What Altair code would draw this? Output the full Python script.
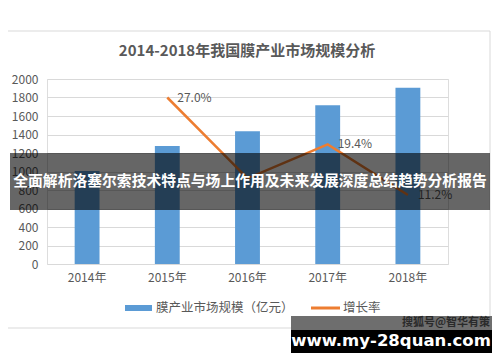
import altair as alt
import pandas as pd

years = ["2014年", "2015年", "2016年", "2017年", "2018年"]
market = [1005, 1275, 1435, 1715, 1905]
growth = [None, 0.270, 0.139, 0.194, 0.112]
growth_labels = ["", "27.0%", "", "19.4%", "11.2%"]

title = "2014-2018年我国膜产业市场规模分析"
legend_bar = "膜产业市场规模（亿元）"
legend_line = "增长率"
banner = "全面解析洛塞尔索技术特点与场上作用及未来发展深度总结趋势分析报告"
wm1 = "搜狐号@智华有策"
wm2 = "www.my-28quan.com"

df = pd.DataFrame({"year": years, "market": market, "growth": growth, "lab": growth_labels})
one = pd.DataFrame({"k": [0]})

FONT = "Noto Sans CJK SC"
GREY = "#595959"

x_enc = alt.X("year:N", sort=years, title=None,
              scale=alt.Scale(paddingInner=0.69, paddingOuter=0.345),
              axis=alt.Axis(labelAngle=0, ticks=False, domain=False, labelPadding=8,
                            labelFontSize=12, labelColor=GREY, labelFont=FONT))

frame = alt.Chart(one).mark_rect(fillOpacity=0, stroke="#d9d9d9", strokeWidth=1).encode(
    x=alt.value(-46), x2=alt.value(443), y=alt.value(-48), y2=alt.value(249))

title_mark = alt.Chart(one).mark_text(align="center", baseline="middle", fontSize=15, fontWeight="bold",
                                      color=GREY, font=FONT, text=title).encode(
    x=alt.value(200), y=alt.value(-28))

bars = alt.Chart(df).mark_bar(color="#5b9bd5").encode(
    x=x_enc,
    y=alt.Y("market:Q", title=None,
            scale=alt.Scale(domain=[0, 2000], nice=False),
            axis=alt.Axis(values=list(range(0, 2001, 200)), format="d", grid=True, gridColor="#d9d9d9",
                          domain=False, ticks=False, labelPadding=9, labelFontSize=12,
                          labelColor=GREY, labelFont=FONT)))

ybase = alt.Y("growth:Q", title=None,
              scale=alt.Scale(domain=[0, 0.3], nice=False),
              axis=alt.Axis(orient="right", format=".1%", values=[0, 0.05, 0.1, 0.15, 0.2, 0.25, 0.3],
                            grid=False, domain=False, ticks=False, labelPadding=11,
                            labelFontSize=11.5, labelColor=GREY, labelFont=FONT))

line = alt.Chart(df).transform_filter("datum.growth != null").mark_line(
    color="#ed7d31", strokeWidth=2.5).encode(x=x_enc, y=ybase)

labels = alt.Chart(df).transform_filter("datum.lab != ''").mark_text(
    align="left", baseline="middle", dx=10, fontSize=12, color=GREY, font=FONT).encode(
    x=x_enc, y=alt.Y("growth:Q", scale=alt.Scale(domain=[0, 0.3], nice=False), axis=None),
    text="lab:N")

rights = alt.layer(line, labels)

leg_rect = alt.Chart(one).mark_rect(color="#5b9bd5").encode(
    x=alt.value(78), x2=alt.value(105), y=alt.value(226), y2=alt.value(232))
leg_t1 = alt.Chart(one).mark_text(align="left", baseline="middle", fontSize=12.5, color=GREY,
                                  font=FONT, text=legend_bar).encode(x=alt.value(109), y=alt.value(229))
leg_line = alt.Chart(one).mark_rule(color="#ed7d31", strokeWidth=3).encode(
    x=alt.value(264), x2=alt.value(293), y=alt.value(229))
leg_t2 = alt.Chart(one).mark_text(align="left", baseline="middle", fontSize=12.5, color=GREY,
                                  font=FONT, text=legend_line).encode(x=alt.value(296), y=alt.value(229))

ban_rect = alt.Chart(one).mark_rect(color="black", opacity=0.6).encode(
    x=alt.value(-37), x2=alt.value(443), y=alt.value(74), y2=alt.value(131))
ban_text = alt.Chart(one).mark_text(align="center", baseline="middle", fontSize=14.8, fontWeight="bold",
                                    color="white", font=FONT, text=banner).encode(
    x=alt.value(203), y=alt.value(103))

wm_grey = alt.Chart(one).mark_rect(color="#6e6e6e").encode(
    x=alt.value(244), x2=alt.value(445), y=alt.value(237), y2=alt.value(251))
wm_black = alt.Chart(one).mark_rect(color="black").encode(
    x=alt.value(244), x2=alt.value(445), y=alt.value(251), y2=alt.value(274))
wm_t1 = alt.Chart(one).mark_text(align="right", baseline="middle", fontSize=11, fontWeight="bold",
                                 color="#2a2a2a", font=FONT, text=wm1).encode(x=alt.value(443), y=alt.value(244))
wm_t2 = alt.Chart(one).mark_text(align="center", baseline="middle", fontSize=16.5, fontWeight="bold",
                                 color="white", font="DejaVu Sans", text=wm2).encode(x=alt.value(344), y=alt.value(262))

main = alt.layer(bars, rights).resolve_scale(y="independent")

chart = alt.layer(
    frame, title_mark, main, leg_rect, leg_t1, leg_line, leg_t2,
    ban_rect, ban_text, wm_grey, wm_black, wm_t1, wm_t2
).resolve_scale(y="independent").properties(
    width=401, height=185,
    autosize=alt.AutoSizeParams(type="none"),
    padding={"left": 39, "top": 71, "right": 44, "bottom": 90},
).configure_view(stroke=None).configure(background="white")

chart.save("out.html", embed_options={"renderer": "svg", "actions": False})
